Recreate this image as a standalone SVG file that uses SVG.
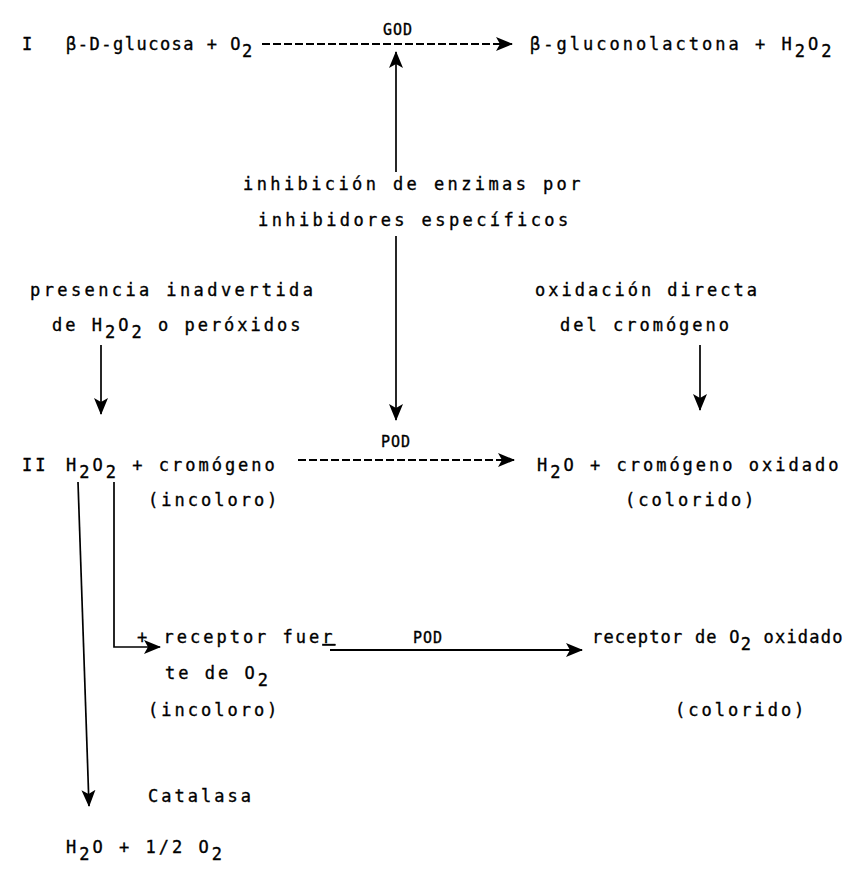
<svg xmlns="http://www.w3.org/2000/svg" width="845" height="874" viewBox="0 0 845 874">
<defs>
<style>
text{font-family:"DejaVu Sans Mono","Liberation Mono",monospace;font-size:17px;letter-spacing:3px;fill:#000;stroke:#000;stroke-width:0.35}
.sm{font-size:15px;letter-spacing:1px}
.tight{letter-spacing:1.5px}
.wide{letter-spacing:3.4px}
.narrow{letter-spacing:1.2px}
.ln{stroke:#000;stroke-width:1.7;fill:none}
.ds{stroke:#000;stroke-width:2;fill:none;stroke-dasharray:8 3}
</style>
<marker id="ah" markerUnits="userSpaceOnUse" markerWidth="18" markerHeight="16" refX="16" refY="8" orient="auto">
<path d="M0,1 L17,8 L0,15 L4,8 z" fill="#000"/>
</marker>
</defs>
<rect width="845" height="874" fill="#fff"/>
<g id="connectors">
<line class="ds" x1="262" y1="44" x2="512" y2="44" marker-end="url(#ah)"/>
<line class="ln" x1="396" y1="172" x2="396" y2="52" marker-end="url(#ah)"/>
<line class="ln" x1="396" y1="236" x2="396" y2="420" marker-end="url(#ah)"/>
<line class="ln" x1="101" y1="345" x2="101" y2="414" marker-end="url(#ah)"/>
<line class="ln" x1="700" y1="345" x2="700" y2="410" marker-end="url(#ah)"/>
<line class="ds" x1="298" y1="460" x2="514" y2="460" marker-end="url(#ah)"/>
<line class="ln" x1="78" y1="482" x2="89" y2="806" marker-end="url(#ah)"/>
<polyline class="ln" points="114,482 114,647 160,647" marker-end="url(#ah)"/>
<line class="ln" x1="330" y1="650" x2="582" y2="650" marker-end="url(#ah)" style="stroke-width:2"/>
</g>
<g id="reaction-I">
<text x="22" y="50">I</text>
<text class="tight" x="66" y="50">β-D-glucosa + O<tspan dy="7">2</tspan></text>
<text class="sm" x="383" y="35">GOD</text>
<text x="530" y="50">β-gluconolactona + H<tspan dy="7">2</tspan><tspan dy="-7">O</tspan><tspan dy="7">2</tspan></text>
</g>
<g id="inhibicion">
<text class="wide" x="243" y="190">inhibición de enzimas por</text>
<text class="wide" x="258" y="226">inhibidores específicos</text>
</g>
<g id="presencia">
<text class="wide" x="30" y="296">presencia inadvertida</text>
<text x="52" y="331">de H<tspan dy="7">2</tspan><tspan dy="-7">O</tspan><tspan dy="7">2</tspan><tspan dy="-7"> o peróxidos</tspan></text>
</g>
<g id="oxidacion">
<text x="535" y="296">oxidación directa</text>
<text x="560" y="331">del cromógeno</text>
</g>
<g id="reaction-II">
<text x="22" y="471">II</text>
<text x="66" y="471">H<tspan dy="7">2</tspan><tspan dy="-7">O</tspan><tspan dy="7">2</tspan><tspan dy="-7"> + cromógeno</tspan></text>
<text x="148" y="506">(incoloro)</text>
<text class="sm" x="381" y="447">POD</text>
<text x="537" y="471">H<tspan dy="7">2</tspan><tspan dy="-7">O + cromógeno oxidado</tspan></text>
<text x="625" y="506">(colorido)</text>
</g>
<g id="receptor">
<text x="137" y="643">+ receptor fue<tspan text-decoration="underline">r</tspan></text>
<text x="165" y="679">te de O<tspan dy="7">2</tspan></text>
<text x="148" y="716">(incoloro)</text>
<text class="sm" x="413" y="643">POD</text>
</g>
<g id="receptor-oxidado">
<text class="narrow" x="592" y="643">receptor de O<tspan dy="7">2</tspan><tspan dy="-7"> oxidado</tspan></text>
<text x="675" y="716">(colorido)</text>
</g>
<g id="catalasa">
<text x="148" y="802">Catalasa</text>
<text x="66" y="853">H<tspan dy="7">2</tspan><tspan dy="-7">O + 1/2 O</tspan><tspan dy="7">2</tspan></text>
</g>
</svg>
